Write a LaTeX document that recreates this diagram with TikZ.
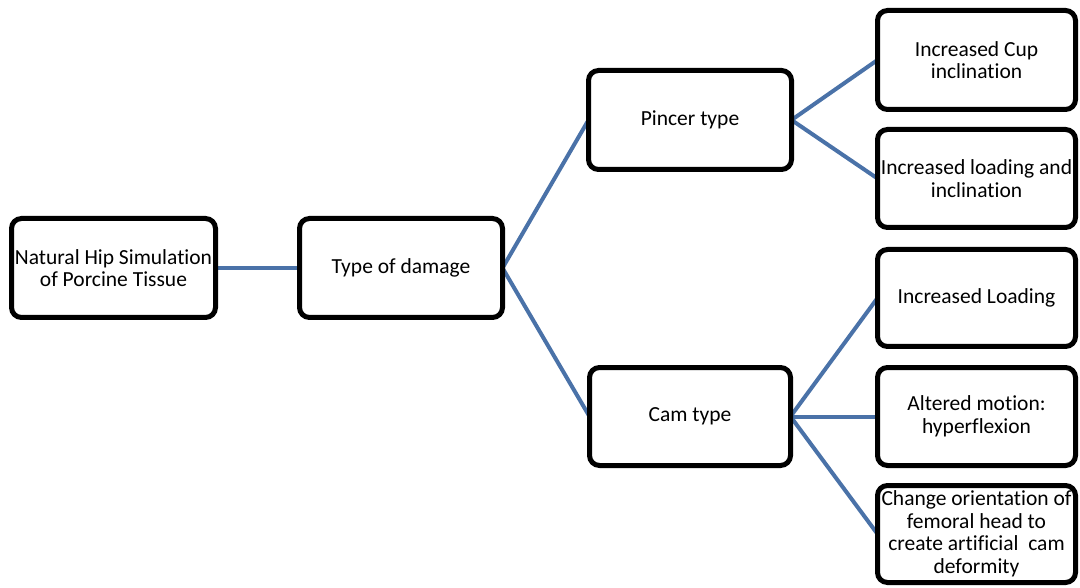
\documentclass[tikz,border=0pt]{standalone}
\usepackage{fontspec}
\setmainfont{Carlito}[Ligatures=NoCommon]
\usetikzlibrary{backgrounds}
\definecolor{linkblue}{RGB}{74,114,168}
\tikzset{
  box/.style={draw=black, fill=white, line width=5pt, rounded corners=10pt,
    align=center, inner sep=2pt, outer sep=0pt,
    font=\fontsize{21.5}{22.5}\selectfont},
  link/.style={draw=linkblue, line width=4pt, line join=round}
}
\begin{document}
\begin{tikzpicture}[x=1pt,y=-1pt]
\useasboundingbox (0,0) rectangle (1080,588);
% left-hand chain
\node[box, minimum width=204pt, minimum height=99pt, inner sep=0pt] (hip) at (113.5,268) {Natural Hip Simulation\\of Porcine Tissue};
\node[box, minimum width=203pt, minimum height=99pt] (dmg) at (401,268) {Type of damage};
% damage types
\node[box, minimum width=203pt, minimum height=99pt] (pincer) at (690,120) {Pincer type};
\node[box, minimum width=201pt, minimum height=98pt] (cam) at (690,416.5) {Cam type};
% pincer consequences
\node[box, minimum width=198pt, minimum height=99pt] (cup) at (976.5,60) {Increased Cup\\inclination};
\node[box, minimum width=198pt, minimum height=98pt, inner sep=0pt] (loadinc) at (976.5,178.5) {Increased loading and\\inclination};
% cam consequences
\node[box, minimum width=198pt, minimum height=97pt] (load) at (976.5,298) {Increased Loading};
\node[box, minimum width=198pt, minimum height=98pt] (alt) at (976.5,416.5) {Altered motion:\\hyperflexion};
\node[box, minimum width=198pt, minimum height=97pt, inner sep=0pt] (change) at (976.5,534) {Change orientation of\\femoral head to\\create artificial\ \ cam\\deformity};
% connectors
\begin{scope}[on background layer]
\draw[link] (hip.east) -- (dmg.west);
\draw[link] (pincer.west) -- (dmg.east) -- (cam.west);
\draw[link] (cup.west) -- (pincer.east) -- (loadinc.west);
\draw[link] (load.west) -- (cam.east) -- (change.west);
\draw[link] (cam.east) -- (alt.west);
\end{scope}
\end{tikzpicture}
\end{document}
